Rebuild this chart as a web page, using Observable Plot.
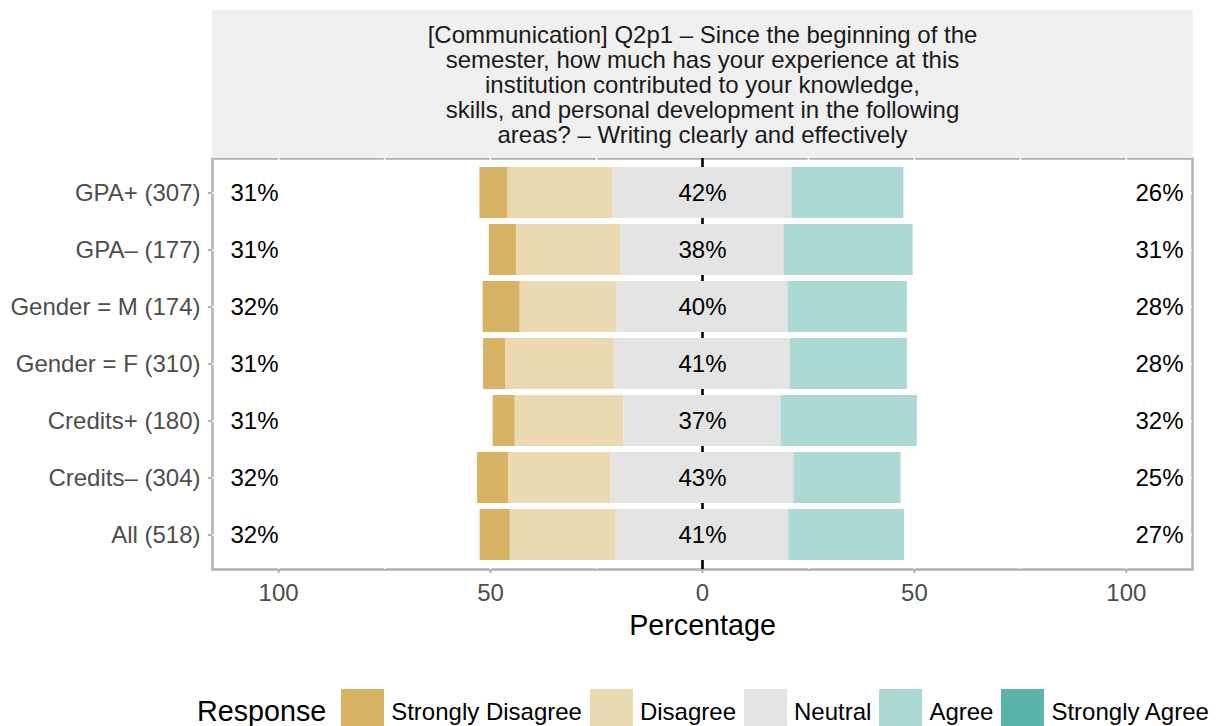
<!DOCTYPE html>
<html>
<head>
<meta charset="utf-8">
<script src="https://cdn.jsdelivr.net/npm/d3@7"></script>
<script src="https://cdn.jsdelivr.net/npm/@observablehq/plot@0.6"></script>
<style>
  html, body { margin: 0; padding: 0; background: #fff; }
  body { font-family: "Liberation Sans", Arial, Helvetica, sans-serif; }
  #wrap { position: relative; width: 1218px; height: 726px; overflow: hidden; }
  #strip { position: absolute; left: 212px; top: 10px; width: 981px; height: 148px;
    background: #F0F0F0; color: #1A1A1A; font-size: 24px; line-height: 25px;
    display: flex; align-items: center; justify-content: center; text-align: center; z-index: 2; }
  #legend { position: absolute; left: 197px; top: 689px; display: flex; align-items: flex-start; }
  #legend .title { font-size: 28.7px; color: #000; margin-right: 15px; line-height: 43px; margin-top: 1px; }
  #legend .sw { width: 43px; height: 43px; margin-right: 7px; }
  #legend .lab { font-size: 24px; color: #000; margin-right: 8px; line-height: 43px; margin-top: 1px; }
</style>
</head>
<body>
<div id="wrap">
  <div id="chart"></div>
  <div id="strip"></div>
  <div id="legend"></div>
</div>
<script>
// ---- data ----
const titleLines = [
  "[Communication] Q2p1 \u2013 Since the beginning of the",
  "semester, how much has your experience at this",
  "institution contributed to your knowledge,",
  "skills, and personal development in the following",
  "areas? \u2013 Writing clearly and effectively"
];
const groups = ["GPA+ (307)", "GPA\u2013 (177)", "Gender = M (174)", "Gender = F (310)", "Credits+ (180)", "Credits\u2013 (304)", "All (518)"];
const responses = ["Strongly Disagree", "Disagree", "Neutral", "Agree", "Strongly Agree"];
const responseColors = ["#D8B365", "#EBD9B2", "#E4E4E4", "#ADD9D5", "#5AB4AC"];
const stronglyDisagree = [6.6, 6.4, 8.7, 5.2, 5.2, 7.3, 7.1];
const disagree         = [24.8, 24.7, 22.9, 25.8, 25.7, 24.2, 25.0];
const neutral          = [42.2, 38.4, 40.3, 41.3, 37.0, 43.1, 40.7];
const agree            = [26.4, 30.5, 28.2, 27.7, 32.2, 25.3, 27.3];
const stronglyAgree    = [0, 0, 0, 0, 0, 0, 0];
const lowPct     = [31, 31, 32, 31, 31, 32, 32];
const neutralPct = [42, 38, 40, 41, 37, 43, 41];
const highPct    = [26, 31, 28, 28, 32, 25, 27];
const xTicks = [-100, -50, 0, 50, 100];
const gridTicks = [-100, -75, -50, -25, 25, 50, 75, 100];
const xLimit = 115.6;

// ---- build tables ----
const segs = [];
groups.forEach((g, i) => {
  const n = neutral[i];
  const vals = [stronglyDisagree[i], disagree[i], n, agree[i], stronglyAgree[i]];
  let l = -n / 2;
  segs.push({g, r: responses[1], x1: l - vals[1], x2: l});
  segs.push({g, r: responses[0], x1: l - vals[1] - vals[0], x2: l - vals[1]});
  segs.push({g, r: responses[2], x1: -n / 2, x2: n / 2});
  let r = n / 2;
  segs.push({g, r: responses[3], x1: r, x2: r + vals[3]});
  segs.push({g, r: responses[4], x1: r + vals[3], x2: r + vals[3] + vals[4]});
});
const rows = groups.map((g, i) => ({g, low: lowPct[i], mid: neutralPct[i], high: highPct[i]}));

const fs = 24;
const plot = Plot.plot({
  width: 1218,
  height: 660,
  marginLeft: 212,
  marginRight: 26,
  marginTop: 158,
  marginBottom: 91,
  style: {fontFamily: '"Liberation Sans", Arial, Helvetica, sans-serif', background: "#fff"},
  x: {domain: [-xLimit, xLimit], axis: null},
  y: {domain: groups, paddingInner: 0.1, paddingOuter: 0.15, axis: null},
  color: {domain: responses, range: responseColors},
  marks: [
    Plot.frame({stroke: "#B3B3B3", strokeWidth: 2.6}),
    Plot.ruleX(gridTicks, {stroke: "#fff", strokeWidth: 1.6}),
    Plot.ruleY(groups, {y: d => d, stroke: "#fff", strokeWidth: 1.6}),
    Plot.ruleX([0], {stroke: "#000", strokeWidth: 2.6}),
    Plot.barX(segs, {x1: "x1", x2: "x2", y: "g", fill: "r", inset: 0}),
    Plot.text(rows, {y: "g", text: d => d.low + "%", frameAnchor: "left", dx: 18, textAnchor: "start", fontSize: fs, fill: "#000"}),
    Plot.text(rows, {y: "g", x: 0, text: d => d.mid + "%", textAnchor: "middle", fontSize: fs, fill: "#000"}),
    Plot.text(rows, {y: "g", text: d => d.high + "%", frameAnchor: "right", dx: -9, textAnchor: "end", fontSize: fs, fill: "#000"}),
    Plot.axisY({tickSize: 4, tickPadding: 8, stroke: "#B3B3B3", strokeWidth: 2, fill: "#4D4D4D", fontSize: fs, label: null}),
    Plot.axisX(xTicks, {tickFormat: d => Math.abs(d), tickSize: 4, tickPadding: 10, stroke: "#B3B3B3", strokeWidth: 2, fill: "#4D4D4D", fontSize: fs, label: null}),
    Plot.text(["Percentage"], {frameAnchor: "bottom", dy: 56, lineAnchor: "middle", fontSize: 28.7, fill: "#000"})
  ]
});
document.getElementById("chart").appendChild(plot);

document.getElementById("strip").innerHTML = "<div>" + titleLines.join("<br>") + "</div>";

const legend = document.getElementById("legend");
legend.innerHTML = '<div class="title">Response</div>' +
  responses.map((r, i) => `<div class="sw" style="background:${responseColors[i]}"></div><div class="lab">${r}</div>`).join("");
</script>
</body>
</html>
